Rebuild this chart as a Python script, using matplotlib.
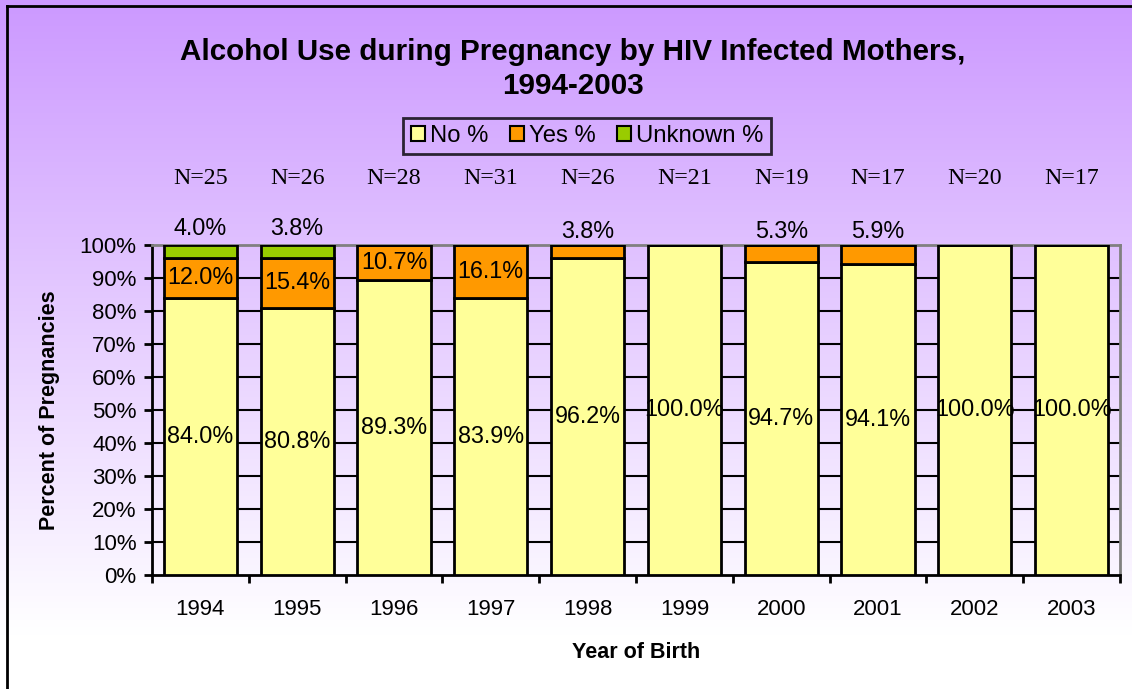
import numpy as np
import matplotlib
matplotlib.use('Agg')
import matplotlib.pyplot as plt
from matplotlib.patches import Patch
from matplotlib.lines import Line2D

plt.rcParams['font.family'] = ['Liberation Sans', 'DejaVu Sans']

years = ['1994', '1995', '1996', '1997', '1998', '1999', '2000', '2001', '2002', '2003']
n_counts = [25, 26, 28, 31, 26, 21, 19, 17, 20, 17]
no_pct = [84.0, 80.8, 89.3, 83.9, 96.2, 100.0, 94.7, 94.1, 100.0, 100.0]
yes_pct = [12.0, 15.4, 10.7, 16.1, 3.8, 0.0, 5.3, 5.9, 0.0, 0.0]
unk_pct = [4.0, 3.8, 0.0, 0.0, 0.0, 0.0, 0.0, 0.0, 0.0, 0.0]

c_no = '#FFFF99'
c_yes = '#FF9900'
c_unk = '#99CC00'

W, H = 1132, 689
fig = plt.figure(figsize=(W/100, H/100), dpi=100)

# gradient background (lavender -> white)
bg = fig.add_axes([0, 0, 1, 1], zorder=-10)
t = np.linspace(0, 1, 300)[:, None]
top = np.array([204, 153, 255]) / 255
bot = np.array([255, 255, 255]) / 255
frac = np.clip(t / 0.92, 0, 1)
grad = top[None, None, :] * (1 - frac[..., None]) + bot[None, None, :] * frac[..., None]
grad = np.repeat(grad, 2, axis=1)
bg.imshow(grad, aspect='auto', extent=[0, 1, 0, 1], origin='upper')
bg.set_xlim(0, 1)
bg.set_ylim(0, 1)
bg.axis('off')
# chart border (left and top)
bg.add_line(Line2D([7/W, 7/W], [0, 1 - 6/H], color='black', lw=2))
bg.add_line(Line2D([7/W, 1], [1 - 6/H, 1 - 6/H], color='black', lw=2))

ax = fig.add_axes([152/W, 1 - 575/H, (1120 - 152)/W, (575 - 245)/H])
ax.set_facecolor('none')

x = np.arange(len(years))
bw = 0.755
no_a = np.array(no_pct)
yes_a = np.array(yes_pct)
unk_a = np.array(unk_pct)

ax.bar(x, no_a, bw, color=c_no, edgecolor='black', linewidth=2, zorder=3)
ax.bar(x, yes_a, bw, bottom=no_a, color=c_yes, edgecolor='black', linewidth=2, zorder=3)
ax.bar(x, unk_a, bw, bottom=no_a + yes_a, color=c_unk, edgecolor='black', linewidth=2, zorder=3)

fs_val = 16.8
for i in range(len(years)):
    ax.text(x[i], no_a[i] / 2, f'{no_pct[i]:.1f}%', ha='center', va='center',
            fontsize=fs_val, zorder=5)
    if yes_pct[i] >= 10:
        ax.text(x[i], no_a[i] + yes_a[i] / 2, f'{yes_pct[i]:.1f}%', ha='center',
                va='center', fontsize=fs_val, zorder=5)
    elif yes_pct[i] > 0:
        ax.text(x[i], 104, f'{yes_pct[i]:.1f}%', ha='center', va='center',
                fontsize=fs_val, zorder=5, clip_on=False)
    if unk_pct[i] > 0:
        ax.text(x[i], 105, f'{unk_pct[i]:.1f}%', ha='center', va='center',
                fontsize=fs_val, zorder=5, clip_on=False)
    ax.text(x[i], 120.3, f'N={n_counts[i]}', ha='center', va='center',
            fontsize=17.2, family='Liberation Serif', clip_on=False)

ax.set_xlim(-0.5, len(years) - 0.5)
ax.set_ylim(0, 100)
ax.set_yticks(np.arange(0, 101, 10))
ax.set_yticklabels([f'{v}%' for v in range(0, 101, 10)], fontsize=16)
for v in range(10, 100, 10):
    ax.axhline(v, color='black', lw=1.5, zorder=1)

ax.set_xticks(np.arange(-0.5, len(years), 1))
ax.set_xticklabels([])
ax.set_xticks(x, minor=True)
ax.set_xticklabels(years, minor=True, fontsize=16)
ax.tick_params(axis='x', which='major', length=6, width=2, direction='out')
ax.tick_params(axis='x', which='minor', length=0, pad=17)
ax.tick_params(axis='y', length=6, width=2, direction='out', pad=5)

for s in ['left', 'bottom']:
    ax.spines[s].set_color('black')
    ax.spines[s].set_linewidth(2)
for s in ['top', 'right']:
    ax.spines[s].set_color('#808080')
    ax.spines[s].set_linewidth(2)

fig.text(573/W, 1 - 52/H, 'Alcohol Use during Pregnancy by HIV Infected Mothers,',
         ha='center', va='center', fontsize=21.3, fontweight='bold')
fig.text(573/W, 1 - 86/H, '1994-2003', ha='center', va='center',
         fontsize=21.3, fontweight='bold')
fig.text(50/W, 1 - 410/H, 'Percent of Pregnancies', rotation=90, ha='center',
         va='center', fontsize=15.5, fontweight='bold')
fig.text(636/W, 1 - 652/H, 'Year of Birth', ha='center', va='center',
         fontsize=15.5, fontweight='bold')

handles = [Patch(facecolor=c_no, edgecolor='black', lw=1.5),
           Patch(facecolor=c_yes, edgecolor='black', lw=1.5),
           Patch(facecolor=c_unk, edgecolor='black', lw=1.5)]
leg = fig.legend(handles, ['No %', 'Yes %', 'Unknown %'], loc='center',
                 bbox_to_anchor=(587/W, 1 - 136/H), ncol=3, fontsize=17.2,
                 frameon=True, fancybox=False, handlelength=0.6, handleheight=0.6,
                 handletextpad=0.2, columnspacing=0.9, borderpad=0.3,
                 borderaxespad=0)
leg.get_frame().set_edgecolor('black')
leg.get_frame().set_linewidth(2)
leg.get_frame().set_facecolor('none')

fig.savefig('out.png', dpi=100)
